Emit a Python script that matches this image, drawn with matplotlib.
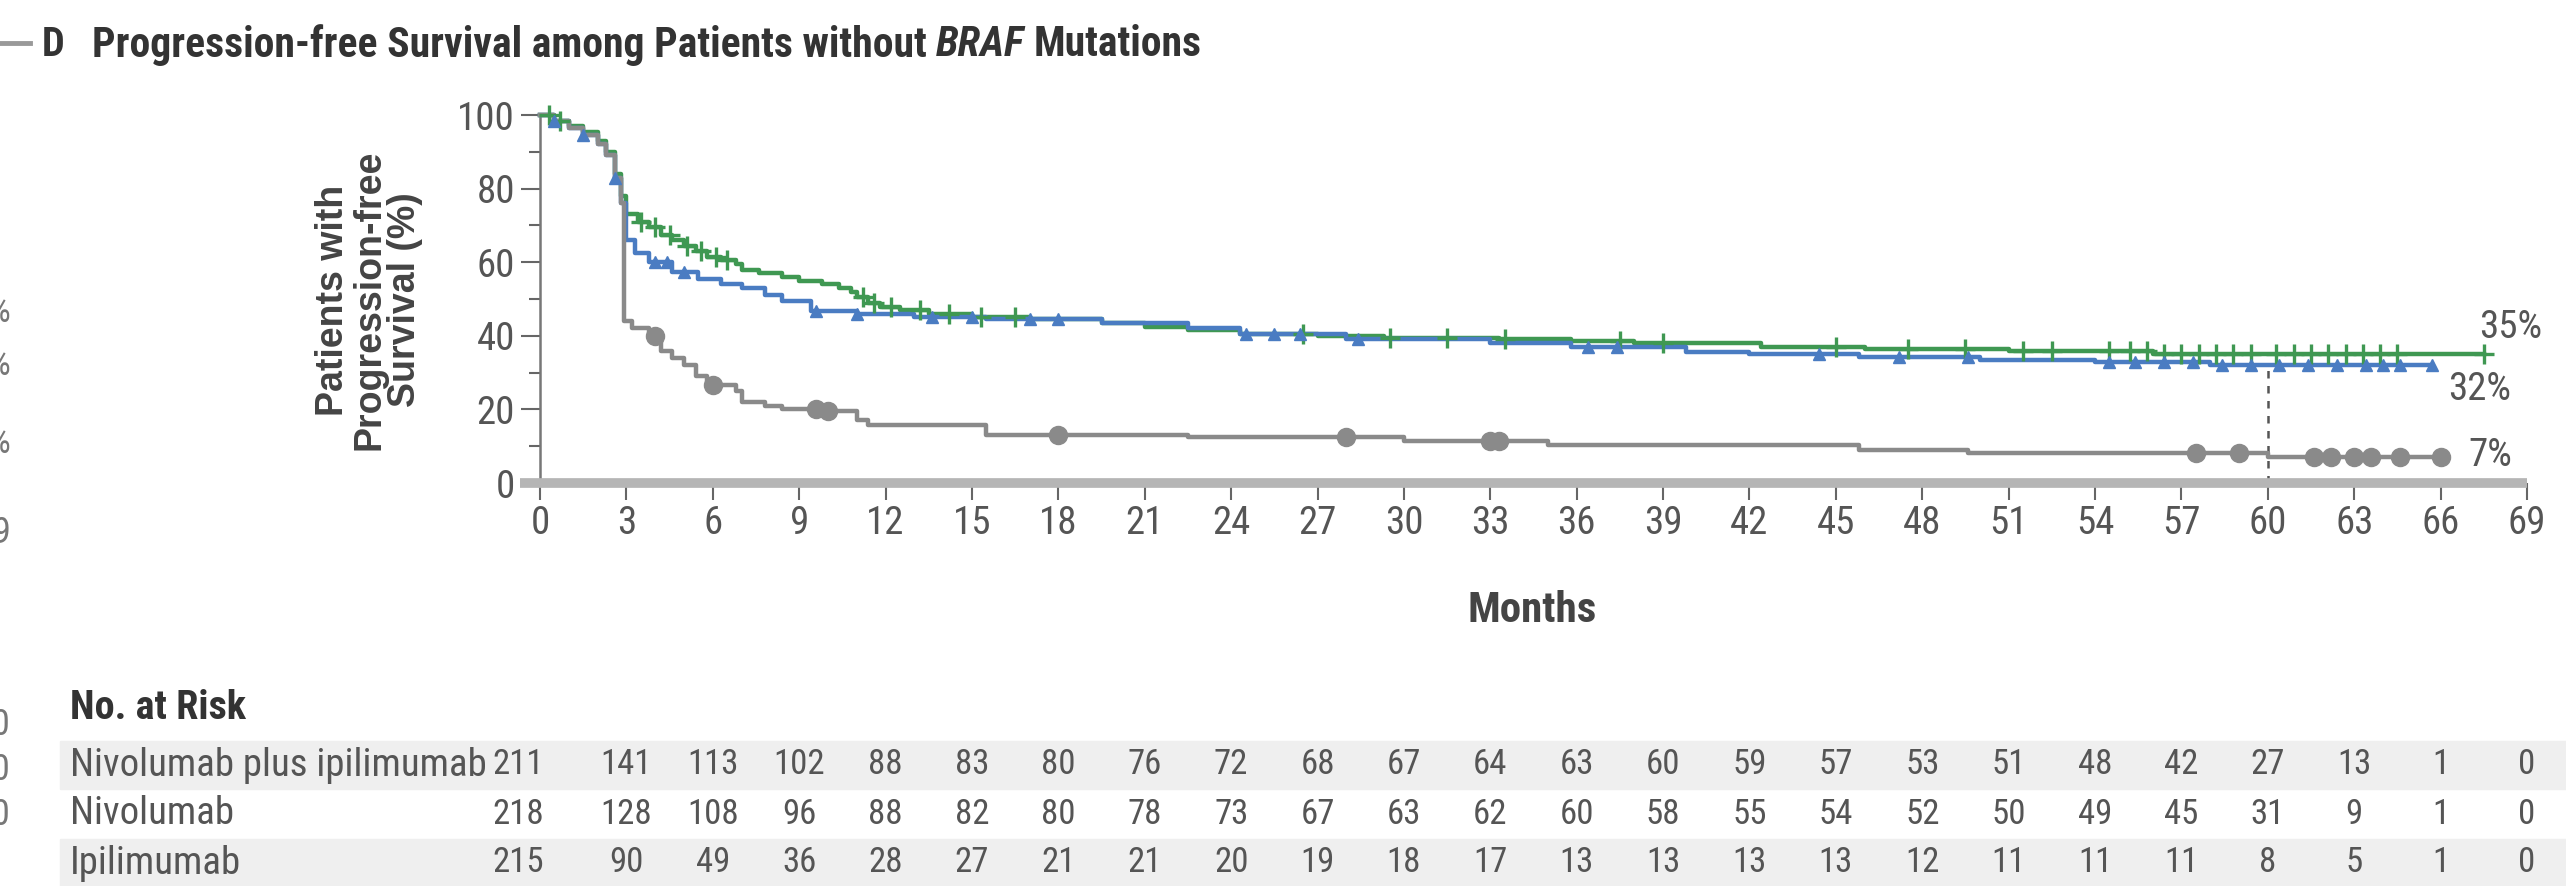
import os
import numpy as np
import matplotlib.pyplot as plt
from matplotlib import transforms, font_manager
from matplotlib.font_manager import FontProperties
from matplotlib.patches import Rectangle
from matplotlib.lines import Line2D

W, H = 2566, 886

# Kaplan-Meier steps (months, % progression-free)
combo_t = [0, 0.5, 1.0, 1.5, 2.0, 2.3, 2.6, 2.8, 3.0, 3.4, 3.8, 4.2, 4.6, 5.0, 5.4, 5.8, 6.3, 6.8, 7.0,
           7.6, 8.4, 9.0, 9.8, 10.4, 10.8, 11.0, 11.4, 11.8, 12.5, 13.5, 15.0, 17.0, 19.5, 21.0, 22.5,
           24.3, 27.0, 29.3, 33.3, 35.8, 38.0, 42.4, 46.0, 51.0, 56.0, 67.5]
combo_s = [100, 98.5, 97, 95.5, 93, 90, 84, 78, 73, 71, 69.5, 67.5, 66, 64.5, 63, 61.5, 60.5, 59.5, 58,
           57, 56, 55, 54, 53, 52, 50.5, 49, 47.7, 47, 46, 45, 44.5, 43.5, 42.5, 41.5,
           40.5, 40, 39.5, 39, 38.5, 38, 37, 36.5, 36, 35, 35]
combo_cens = [0.3, 0.7, 3.5, 4.0, 4.5, 5.1, 5.6, 6.1, 6.5, 11.2, 11.6, 12.2, 13.2, 14.2, 15.3, 16.5,
              26.5, 29.5, 31.5, 33.5, 37.5, 39.0, 45.0, 47.5, 49.5, 51.5, 52.5, 54.5, 55.2, 55.8,
              56.4, 57.0, 57.6, 58.2, 58.8, 59.4, 60.3, 60.9, 61.5, 62.1, 62.7, 63.3, 63.9, 64.5, 67.5]

nivo_t = [0, 0.5, 1.0, 1.5, 2.0, 2.3, 2.6, 2.8, 3.0, 3.3, 3.8, 4.6, 5.5, 6.3, 7.0, 7.8, 8.4, 9.4,
          11.0, 13.0, 15.5, 19.5, 22.5, 24.3, 28.0, 33.0, 35.8, 39.8, 42.0, 45.8, 50.0, 54.0, 58.0, 65.7]
nivo_s = [100, 98.5, 96.5, 94.5, 92, 89, 83, 76, 66, 62.5, 60, 57.4, 55.5, 54, 53, 51, 49.5, 46.8,
          45.8, 45, 44.5, 43.5, 42, 40.5, 39, 38, 37, 35.6, 35, 34.3, 33.5, 33, 32, 32]
nivo_cens = [0.5, 1.5, 2.6, 4.0, 4.4, 5.0, 9.6, 11.0, 13.6, 15.0, 17.0, 18.0, 24.5, 25.5, 26.4, 28.4,
             36.4, 37.4, 44.4, 47.2, 49.6, 54.5, 55.4, 56.4, 57.4, 58.4, 59.4, 60.4, 61.4, 62.4,
             63.4, 64.0, 64.6, 65.7]

ipi_t = [0, 0.5, 1.0, 1.5, 2.0, 2.3, 2.6, 2.8, 2.9, 3.2, 3.8, 4.2, 4.6, 5.0, 5.4, 5.8, 6.8, 7.0, 7.8,
         8.4, 9.8, 11.0, 11.4, 15.5, 22.5, 30.0, 35.0, 45.8, 49.6, 60.0, 66.0]
ipi_s = [100, 98.5, 96.5, 94.5, 92, 89, 83, 76, 44, 42, 40, 36, 34, 32, 29, 26.5, 25, 22, 21,
         20, 19.5, 17, 15.7, 13, 12.5, 11.5, 10.2, 9, 8.2, 7, 7]
ipi_cens = [4.0, 6.0, 9.6, 10.0, 18.0, 28.0, 33.0, 33.3, 57.5, 59.0, 61.6, 62.2, 63.0, 63.6, 64.6, 66.0]

month_ticks = list(range(0, 70, 3))
risk_rows = ['Nivolumab plus ipilimumab', 'Nivolumab', 'Ipilimumab']
risk_combo = [211, 141, 113, 102, 88, 83, 80, 76, 72, 68, 67, 64, 63, 60, 59, 57, 53, 51, 48, 42, 27, 13, 1, 0]
risk_nivo = [218, 128, 108, 96, 88, 82, 80, 78, 73, 67, 63, 62, 60, 58, 55, 54, 52, 50, 49, 45, 31, 9, 1, 0]
risk_ipi = [215, 90, 49, 36, 28, 27, 21, 21, 20, 19, 18, 17, 13, 13, 13, 13, 12, 11, 11, 11, 8, 5, 1, 0]


# look for a narrow sans face on the system, else fall back to Liberation Sans
font_files = {os.path.basename(f.fname): f.fname for f in font_manager.fontManager.ttflist}
narrow_names = {
    'regular': ['LiberationSansNarrow-Regular.ttf', 'RobotoCondensed-Regular.ttf', 'DejaVuSansCondensed.ttf',
                'NotoSans-Condensed.ttf', 'OpenSans_Condensed-Regular.ttf', 'OpenSans-CondensedRegular.ttf'],
    'bold': ['LiberationSansNarrow-Bold.ttf', 'RobotoCondensed-Bold.ttf', 'DejaVuSansCondensed-Bold.ttf',
             'NotoSans-CondensedBold.ttf', 'OpenSans_Condensed-Bold.ttf', 'OpenSans-CondensedBold.ttf'],
    'bolditalic': ['LiberationSansNarrow-BoldItalic.ttf', 'RobotoCondensed-BoldItalic.ttf',
                   'DejaVuSansCondensed-BoldOblique.ttf', 'NotoSans-CondensedBoldItalic.ttf',
                   'OpenSans_Condensed-BoldItalic.ttf', 'OpenSans-CondensedBoldItalic.ttf'],
}


def fp(size, style='regular'):
    for name in narrow_names[style]:
        if name in font_files:
            return FontProperties(fname=font_files[name], size=size)
    return FontProperties(family=['Liberation Sans', 'DejaVu Sans'], size=size,
                          weight='bold' if 'bold' in style else 'normal',
                          style='italic' if 'italic' in style else 'normal')


def surv_at(t, s, x):
    idx = np.searchsorted(t, x, side='right') - 1
    return np.asarray(s)[idx]


def fx(x):
    return x / W


def fy(y):
    return 1 - y / H


fig = plt.figure(figsize=(W / 100, H / 100), dpi=100)
ax = fig.add_axes([fx(540), fy(483), fx(2527 - 540), (483 - 115) / H])
ax.set_xlim(0, 69)
ax.set_ylim(0, 100)

green, blue, grey = '#3f9852', '#4a7cc2', '#8a8a8a'
curves = [
    (combo_t, combo_s, combo_cens, green, '+', 14, 2.4),
    (nivo_t, nivo_s, nivo_cens, blue, '^', 9, 1),
    (ipi_t, ipi_s, ipi_cens, grey, 'o', 13, 1),
]
for t, s, cens, col, mk, ms, mew in curves:
    ax.step(t, s, where='post', color=col, lw=3.2, clip_on=False, zorder=3)
    ax.plot(cens, surv_at(t, s, cens), ls='none', marker=mk, ms=ms, mew=mew,
            color=col, mec=col, clip_on=False, zorder=4)

# 5-year reference line
ax.plot([60, 60], [0, surv_at(nivo_t, nivo_s, 60)], ls=(0, (3, 3)), color='#555555', lw=1.8, zorder=2)

# end-of-curve percentages
for t, s, dx, dy in [(combo_t, combo_s, -5, 27), (nivo_t, nivo_s, 16, -24), (ipi_t, ipi_s, 28, 2)]:
    v = surv_at(t, s, 60)
    ax.annotate(f'{v:g}%', xy=(t[-1], s[-1]), xytext=(dx, dy), textcoords='offset pixels',
                ha='left', va='center', fontproperties=fp(28), color='#555555')

for side in ['top', 'right']:
    ax.spines[side].set_visible(False)
ax.spines['bottom'].set_linewidth(7)
ax.spines['bottom'].set_color('#b5b5b5')
ax.spines['bottom'].set_bounds(-0.7, 69)
ax.spines['bottom'].set_capstyle('butt')
ax.spines['left'].set_linewidth(1.8)
ax.spines['left'].set_color('#777777')

ax.set_xticks(month_ticks)
ax.set_xticklabels([str(m) for m in month_ticks], fontproperties=fp(28))
ax.set_yticks(range(0, 101, 20))
ax.set_yticklabels([str(v) for v in range(0, 101, 20)], fontproperties=fp(28))
ax.set_yticks(range(10, 100, 20), minor=True)
ax.tick_params(axis='x', length=12, width=1.5, color='#666666', pad=4, labelcolor='#555555')
ax.tick_params(axis='y', which='major', length=14, width=1.5, color='#666666', pad=4,
               labelcolor='#555555')
ax.tick_params(axis='y', which='minor', length=8, width=1.5, color='#666666')

fig.text(fx(1532), fy(610), 'Months', ha='center', va='center', fontproperties=fp(31, 'bold'),
         color='#444444')
fig.text(fx(369), fy(300), 'Patients with\nProgression-free\nSurvival (%)', rotation=90,
         ha='center', va='center', fontsize=27, fontweight='bold', color='#444444',
         family=['Liberation Sans', 'DejaVu Sans'], linespacing=1.0)

# panel heading
fig.add_artist(Line2D([0, fx(30)], [fy(43), fy(43)], color='#999999', lw=3.5))
fig.text(fx(42), fy(45), 'D', ha='left', va='center', fontproperties=fp(29, 'bold'), color='#333333')
r = fig.canvas.get_renderer()
t1 = fig.text(fx(92), fy(45), 'Progression-free Survival among Patients without', ha='left',
              va='center', fontproperties=fp(30, 'bold'), color='#333333')
x1 = t1.get_window_extent(r).x1 + 9
t2 = fig.text(x1 / W, fy(45), 'BRAF', ha='left', va='center', fontproperties=fp(30, 'bolditalic'),
              color='#333333')
x2 = t2.get_window_extent(r).x1 + 9
fig.text(x2 / W, fy(45), 'Mutations', ha='left', va='center', fontproperties=fp(30, 'bold'),
         color='#333333')

# number at risk table
row_y = [765, 814, 863]
for y in (row_y[0], row_y[2]):
    fig.add_artist(Rectangle((fx(60), fy(y + 24)), 1, 48 / H, transform=fig.transFigure,
                             color='#efefef', zorder=0))
fig.text(fx(70), fy(708), 'No. at Risk', ha='left', va='center', fontproperties=fp(29, 'bold'),
         color='#333333')
tr = transforms.blended_transform_factory(ax.transData, fig.transFigure)
for y, name, vals in zip(row_y, risk_rows, [risk_combo, risk_nivo, risk_ipi]):
    fig.text(fx(70), fy(y), name, ha='left', va='center', fontproperties=fp(28), color='#555555')
    for m, v in zip(month_ticks, vals):
        ax.text(m + (0.15 if m == 0 else 0), fy(y), str(v), transform=tr,
                ha='right' if m == 0 else 'center', va='center', fontproperties=fp(25),
                color='#555555', clip_on=False)

# edge of the neighbouring panel
for y, s in [(312, '%'), (365, '%'), (443, '%'), (533, '9'), (725, '0'), (770, '0'), (815, '0')]:
    fig.text(fx(10), fy(y), s, ha='right', va='center', fontproperties=fp(26), color='#777777')

fig.savefig('out.png', dpi=100)
